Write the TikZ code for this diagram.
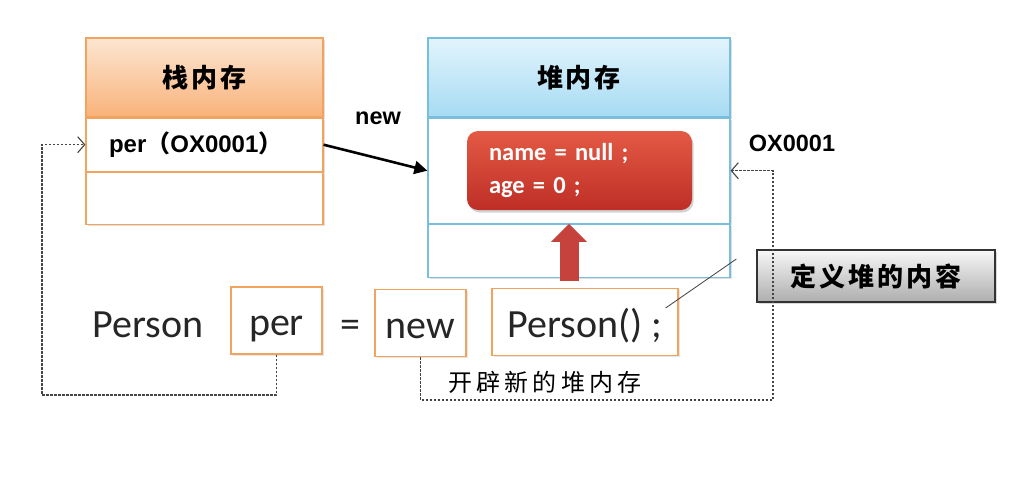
\documentclass[tikz,border=0pt]{standalone}
\usepackage{fontspec}
\setmainfont{Carlito}
\newfontfamily\cjk{Noto Sans CJK SC}
\newfontfamily\lbl{Liberation Sans}
\usetikzlibrary{positioning, shadows, arrows.meta}
\definecolor{stkline}{HTML}{F2A35E}
\definecolor{stktop}{HTML}{FDE6D2}
\definecolor{stkbot}{HTML}{F8B27A}
\definecolor{hpline}{HTML}{78BEDD}
\definecolor{hptop}{HTML}{E2F4FC}
\definecolor{hpbot}{HTML}{A6DBF3}
\definecolor{objtop}{HTML}{E35A44}
\definecolor{objbot}{HTML}{BE2E26}
\definecolor{dashgray}{HTML}{444444}
\tikzset{cell/.style={draw, fill=white, inner sep=0pt, line width=1.2pt,
    drop shadow={opacity=.25, shadow xshift=2pt, shadow yshift=-2pt}},
  stkcell/.style={cell, draw=stkline, minimum width=237pt},
  hpcell/.style={cell, draw=hpline, minimum width=302pt},
  head/.style={font=\fontsize{26}{30}\selectfont\cjk\bfseries\addfontfeature{LetterSpace=11}},
  txt/.style={inner sep=0pt, text height=38pt, text depth=8pt,
    font=\fontsize{40}{48}\selectfont, text=black!85},
  code/.style={txt, draw=stkline, fill=white, line width=1.2pt, minimum height=67pt,
    drop shadow={opacity=.2, shadow xshift=1.5pt, shadow yshift=-1.5pt}},
  lab/.style={font=\fontsize{23.5}{28}\selectfont\lbl\bfseries},
  dline/.style={dashgray, line width=1.1pt, dash pattern=on 2.5pt off 1.5pt,
    -{Straight Barb[length=7pt,width=16pt]}}
}
\begin{document}
\begin{tikzpicture}[x=1pt,y=-1pt]
\useasboundingbox (0,0) rectangle (1018,499);
% stack
\node[stkcell, minimum height=79pt, top color=stktop, bottom color=stkbot, head] (stk) at (204.5,77.5) {栈内存};
\node[stkcell, minimum height=53pt, below=0pt of stk, text width=191pt, align=left,
  font=\fontsize{24}{28}\selectfont\lbl\bfseries] (stk1) {per{\cjk （}OX0001{\cjk ）}};
\node[stkcell, minimum height=52pt, below=0pt of stk1] (stk2) {};
% heap
\node[hpcell, minimum height=79pt, top color=hptop, bottom color=hpbot, head] (hp) at (579,77.5) {堆内存};
\node[hpcell, minimum height=105pt, below=0pt of hp] (hp1) {};
\node[hpcell, minimum height=53pt, below=0pt of hp1] (hp2) {};
\node[rounded corners=11pt, top color=objtop, bottom color=objbot, minimum width=225pt,
  minimum height=79pt, text width=181pt, align=left, text=white, inner sep=0pt,
  font=\fontsize{24.5}{33}\selectfont\bfseries,
  drop shadow={opacity=.35, shadow xshift=1.5pt, shadow yshift=-2.5pt}] (obj) at (579.5,170.5) {name = null ;\\age = 0 ;};
\draw[line width=19pt, draw=objbot!90, -{Triangle[length=18pt,width=35pt]}]
  ([xshift=-10pt,yshift=-3pt]hp2.south) -- ([xshift=-10pt]hp2.north);
% code line
\node[txt] (cls) at (148,322) {Person};
\node[code, minimum width=91pt] (per) at (276.5,320.5) {per};
\node[txt] (eq) at (350,322) {=};
\node[code, minimum width=91pt] (new) at (420.5,323) {new};
\node[code, minimum width=186pt] (ctor) at (585,322) {Person() ;};
\node[draw=black!80, line width=1.3pt, top color=black!3, bottom color=black!32,
  minimum width=238pt, minimum height=52pt, head,
  drop shadow={opacity=.3, shadow xshift=2pt, shadow yshift=-2pt}] (note) at (876,276) {定义堆的内容};
% labels
\node[lab] (newlab) at (378,118) {new};
\node[lab] (addr) at (792,143) {OX0001};
\node[font=\fontsize{24}{28}\selectfont\cjk\addfontfeature{LetterSpace=18}] (open) at (545,382) {开辟新的堆内存};
\coordinate (lbend) at (42,395);
\coordinate (rbend) at (773,400);
% connectors
\draw[line width=2.6pt, -{Triangle[length=13pt,width=13pt]}] (stk1.east) -- (hp1.west);
\draw[dline] (per.south) |- (lbend) |- (stk1.west);
\draw[dline] (new.south) |- (rbend) |- (hp1.east);
\draw[black!75, line width=0.8pt] ([xshift=-13pt,yshift=14pt]ctor.east) -- ([xshift=-20pt,yshift=17pt]note.west);
\end{tikzpicture}
\end{document}
